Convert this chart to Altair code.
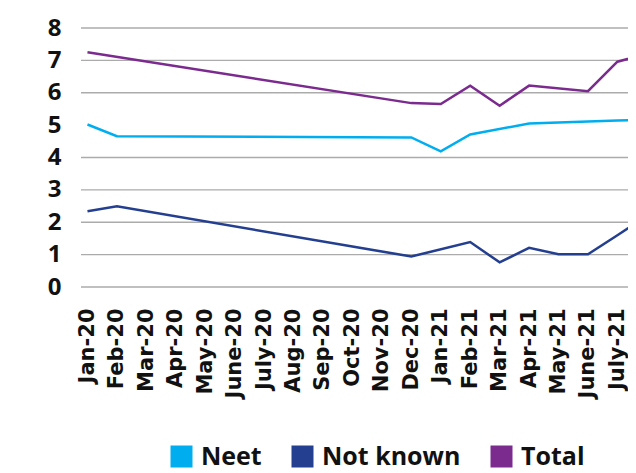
import altair as alt
import pandas as pd

months = ["Jan-20", "Feb-20", "Mar-20", "Apr-20", "May-20", "June-20", "July-20",
          "Aug-20", "Sep-20", "Oct-20", "Nov-20", "Dec-20", "Jan-21", "Feb-21",
          "Mar-21", "Apr-21", "May-21", "June-21", "July-21", "Aug-21"]

neet = [5.02, 4.66, None, None, None, None, None, None, None, None, None,
        4.62, 4.19, 4.71, None, 5.05, None, None, 5.14, 5.17]
not_known = [2.34, 2.49, None, None, None, None, None, None, None, None, None,
             0.94, None, 1.39, 0.76, 1.21, 1.01, 1.01, 1.60, 2.20]
total = [7.25, None, None, None, None, None, None, None, None, None, None,
         5.68, 5.65, 6.22, 5.60, 6.22, None, 6.05, 6.96, 7.20]

series_names = ["Neet", "Not known", "Total"]
series_colors = ["#00aeef", "#243f8f", "#7b2a8e"]
grid_values = [0, 1, 2, 3, 4, 6, 7, 8]
y_ticks = [0, 1, 2, 3, 4, 5, 6, 7, 8]

rows = []
for name, vals in zip(series_names, [neet, not_known, total]):
    for i, v in enumerate(vals):
        if v is not None:
            rows.append({"idx": i, "series": name, "value": v})
df = pd.DataFrame(rows)
grid_df = pd.DataFrame({"g": grid_values})

label_array = "[" + ",".join("'" + m + "'" for m in months) + "]"

y_scale = alt.Scale(domain=[0, 8], nice=False, zero=True)
y_axis = alt.Axis(
    values=y_ticks,
    labelFont="Open Sans",
    labelFontWeight="bold",
    labelFontSize=24,
    labelColor="#111111",
    labelPadding=20,
    ticks=False,
    domain=False,
    grid=False,
    title=None,
)

grid = alt.Chart(grid_df).mark_rule(color="#ababab", strokeWidth=1.3).encode(
    y=alt.Y("g:Q", scale=y_scale, axis=y_axis)
)

lines = alt.Chart(df).mark_line(clip=True).encode(
    x=alt.X(
        "idx:Q",
        scale=alt.Scale(domain=[-0.22, 18.36], nice=False, zero=False),
        axis=alt.Axis(
            values=list(range(19)),
            labelExpr=label_array + "[datum.value]",
            labelAngle=270,
            labelAlign="right",
            labelBaseline="middle",
            labelFont="DejaVu Sans",
            labelFontWeight="bold",
            labelFontSize=21,
            labelColor="#111111",
            labelPadding=21,
            labelOverlap=False,
            labelFlush=False,
            ticks=False,
            domain=False,
            grid=False,
            title=None,
        ),
    ),
    y=alt.Y("value:Q", scale=y_scale, axis=y_axis),
    color=alt.Color(
        "series:N",
        scale=alt.Scale(domain=series_names, range=series_colors),
        legend=alt.Legend(
            orient="none",
            legendX=88,
            legendY=416,
            direction="horizontal",
            title=None,
            symbolType="square",
            symbolSize=121,
            symbolStrokeWidth=11,
            labelFont="Open Sans",
            labelFontWeight="bold",
            labelFontSize=25,
            labelColor="#111111",
            labelOffset=7,
            columnPadding=13,
        ),
    ),
    strokeWidth=alt.value(2.5),
)

chart = alt.layer(grid, lines).properties(
    width=547,
    height=259,
    autosize=alt.AutoSizeParams(type="none"),
    padding={"left": 73, "top": 20, "right": 0, "bottom": 186},
).configure_view(stroke=None)

chart.save("out.html", embed_options={"renderer": "svg", "actions": False})
